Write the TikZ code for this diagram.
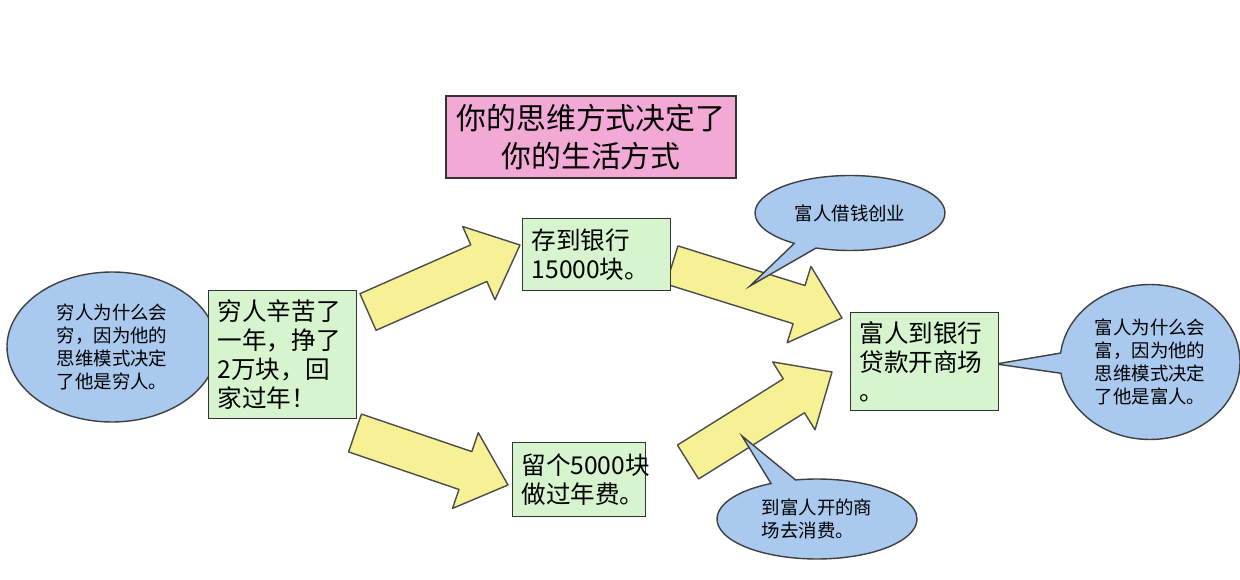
\documentclass[tikz,border=0pt]{standalone}
\usepackage{fontspec}
\setmainfont{Noto Sans CJK SC}
\usetikzlibrary{calc, positioning, shapes.callouts, shapes.geometric}

\definecolor{boxgreen}{HTML}{D6F5CF}
\definecolor{bubbleblue}{HTML}{A9C9EE}
\definecolor{arrowyellow}{HTML}{F7F196}
\definecolor{titlepink}{HTML}{F2A9D6}

\tikzset{
   notebox/.style = {draw=black!80, thick, fill=boxgreen, align=left, inner sep=5pt,
                     font=\fontsize{14}{16.5}\selectfont, anchor=north west},
   bubble/.style = {ellipse callout, draw=black!75, thick, fill=bubbleblue, align=left,
                    font=\fontsize{10.5}{13}\selectfont, inner sep=1pt},
   fatarrow/.style = {draw=black!70, thick, fill=arrowyellow, line join=round}
}
\newcommand{\fatarrow}[2]{%
   \coordinate (h) at ($(#2)!0.9cm!(#1)$);
   \draw[fatarrow] ($(#1)!0.4cm!90:(#2)$) -- ($(h)!0.4cm!-90:(#1)$)
      -- ($(h)!0.8cm!-90:(#1)$) -- (#2) -- ($(h)!0.8cm!90:(#1)$)
      -- ($(h)!0.4cm!90:(#1)$) -- ($(#1)!0.4cm!-90:(#2)$) -- cycle;}

\begin{document}
\begin{tikzpicture}[x=0.02cm, y=-0.02cm]
   \useasboundingbox[fill=white] (0,0) rectangle (1240,580);

   \node[draw=black!80, thick, fill=titlepink, minimum width=5.8cm, minimum height=1.64cm,
         align=center, font=\fontsize{17}{22}\selectfont] (title) at (591,137)
         {你的思维方式决定了\\你的生活方式};

   % arrows first, bubbles and boxes lie on top
   \coordinate (a1s) at (368,312);  \coordinate (a1e) at (520,245);
   \coordinate (a2s) at (355,433);  \coordinate (a2e) at (508,485);
   \coordinate (a3s) at (672,265);  \coordinate (a3e) at (842,318);
   \coordinate (a4s) at (688,462);  \coordinate (a4e) at (832,372);
   \fatarrow{a1s}{a1e}
   \fatarrow{a2s}{a2e}
   \fatarrow{a3s}{a3e}
   \fatarrow{a4s}{a4e}

   \coordinate (tip1) at (212,347);
   \coordinate (tip2) at (996,364);
   \coordinate (tip3) at (750,286);
   \coordinate (tip4) at (742,436);

   \node[bubble, minimum width=4.2cm, minimum height=3cm, callout absolute pointer={(tip1)}]
         (whypoor) at (112,347) {穷人为什么会\\穷，因为他的\\思维模式决定\\了他是穷人。};
   \node[bubble, minimum width=3.6cm, minimum height=3.1cm, callout absolute pointer={(tip2)}]
         (whyrich) at (1150,362) {富人为什么会\\富，因为他的\\思维模式决定\\了他是富人。};
   \node[bubble, minimum width=3.8cm, minimum height=1.5cm, callout absolute pointer={(tip3)}]
         (borrow) at (850,213) {富人借钱创业};
   \node[bubble, minimum width=4cm, minimum height=1.6cm, callout absolute pointer={(tip4)}]
         (spend) at (817,519) {到富人开的商\\场去消费。};

   \node[notebox, text width=2.6cm, minimum height=2.56cm, minimum width=2.96cm] (poor) at (208,290)
         {穷人辛苦了\\一年，挣了\\2万块，回\\家过年！};
   \node[notebox, text width=2.6cm, minimum height=1.44cm, minimum width=2.96cm] (save) at (522,218)
         {存到银行\\15000块。};
   \node[notebox, text width=2.3cm, minimum height=1.48cm, minimum width=2.6cm] (keep) at (512,442)
         {留个5000块\\做过年费。};
   \node[notebox, text width=2.6cm, minimum height=1.96cm, minimum width=2.9cm] (rich) at (850,312)
         {富人到银行\\贷款开商场\\。};
\end{tikzpicture}
\end{document}
